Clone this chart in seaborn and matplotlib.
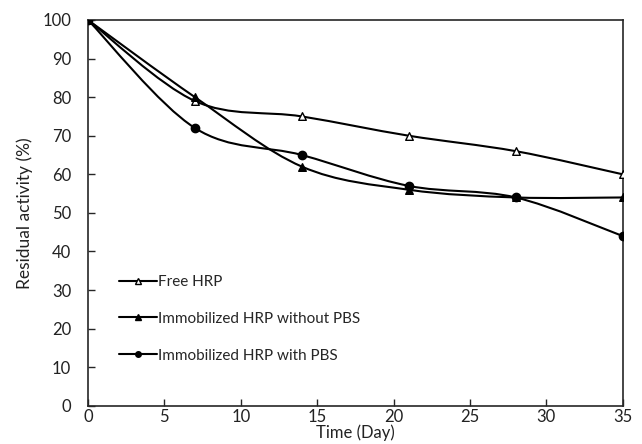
import numpy as np
import pandas as pd
import matplotlib
matplotlib.use('Agg')
import matplotlib.pyplot as plt
import seaborn as sns
from matplotlib.path import Path
from matplotlib.patches import PathPatch
from matplotlib.lines import Line2D

# Data
days = [0, 7, 14, 21, 28, 35]
free_hrp = [100, 79, 75, 70, 66, 60]
immob_no_pbs = [100, 80, 62, 56, 54, 54]
immob_pbs = [100, 72, 65, 57, 54, 44]

series_names = ['Free HRP', 'Immobilized HRP without PBS', 'Immobilized HRP with PBS']
series_values = [free_hrp, immob_no_pbs, immob_pbs]
series_markers = ['^', '^', 'o']
series_fill = ['white', 'black', 'black']

df = pd.DataFrame({
    'Day': days * 3,
    'Activity': free_hrp + immob_no_pbs + immob_pbs,
    'Series': [s for s in series_names for _ in days],
})

sns.set_style('ticks')
plt.rcParams['font.family'] = ['Lato', 'DejaVu Sans']


def smooth_path(x, y):
    # Excel-like smoothed line: cubic bezier segments through the points
    x = np.asarray(x, float)
    y = np.asarray(y, float)
    pts = np.column_stack([x, y])
    verts = [pts[0]]
    codes = [Path.MOVETO]
    n = len(pts)
    for i in range(n - 1):
        p0 = pts[i - 1] if i > 0 else pts[i]
        p1 = pts[i]
        p2 = pts[i + 1]
        p3 = pts[i + 2] if i + 2 < n else pts[i + 1]
        c1 = p1 + (p2 - p0) / 6.0
        c2 = p2 - (p3 - p1) / 6.0
        verts += [c1, c2, p2]
        codes += [Path.CURVE4] * 3
    return Path(verts, codes)


fig, ax = plt.subplots(figsize=(6.42, 4.44), dpi=100)
fig.subplots_adjust(left=0.137, right=0.970, top=0.955, bottom=0.086)

for name, vals in zip(series_names, series_values):
    ax.add_patch(PathPatch(smooth_path(days, vals), facecolor='none',
                           edgecolor='black', lw=1.5, zorder=2))

for name, m, fc in zip(series_names, series_markers, series_fill):
    sub = df[df['Series'] == name]
    sns.scatterplot(data=sub, x='Day', y='Activity', ax=ax, marker=m,
                    s=30 if m == '^' else 36, color=fc, edgecolor='black',
                    linewidth=1.0, zorder=3, legend=False)

ax.set_xlim(0, 35)
ax.set_ylim(0, 100)
ax.set_xticks(range(0, 36, 5))
ax.set_yticks(range(0, 101, 10))
ax.tick_params(direction='in', length=5, width=1, labelsize=12, labelcolor='#222222')
ax.tick_params(axis='x', pad=2)
ax.tick_params(axis='y', pad=12)
for sp in ax.spines.values():
    sp.set_linewidth(1.2)
ax.set_xlabel('Time (Day)', fontsize=12, labelpad=0, color='#222222')
ax.set_ylabel('Residual activity (%)', fontsize=12.5, labelpad=7, color='#222222')

handles = [Line2D([0], [0], color='black', lw=1.5, marker=m, markersize=4,
                  markerfacecolor=fc, markeredgecolor='black')
           for m, fc in zip(series_markers, series_fill)]
ax.legend(handles, series_names, loc='lower left', bbox_to_anchor=(0.035, 0.08),
          frameon=False, handlelength=2.5, handletextpad=0.05,
          labelspacing=1.5, borderpad=0.3, prop={'size': 11})

fig.savefig('out.png', dpi=100)
